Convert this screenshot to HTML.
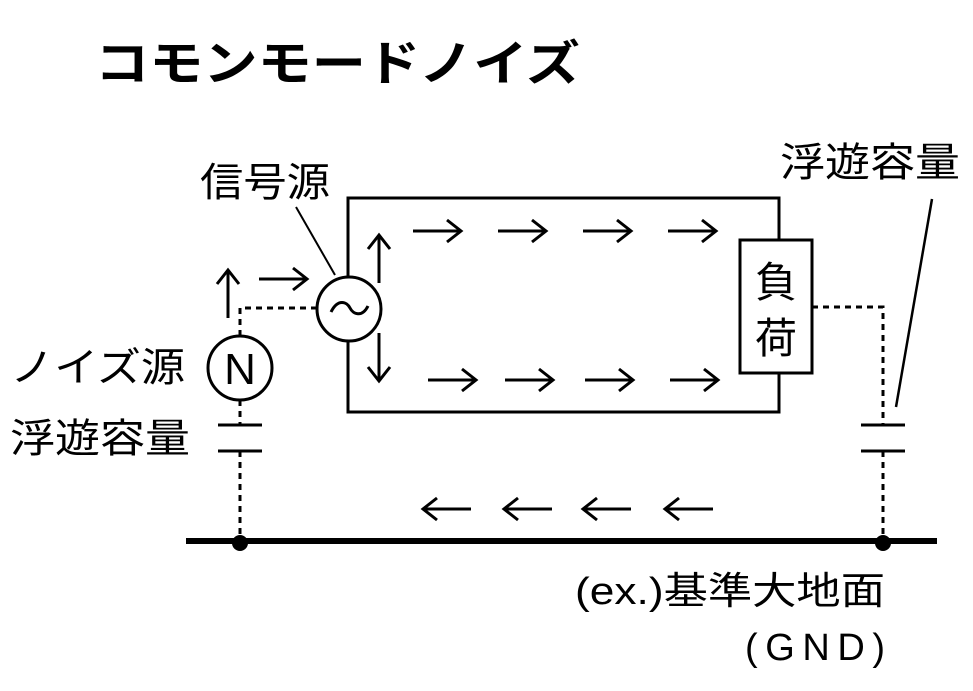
<!DOCTYPE html>
<html><head><meta charset="utf-8"><style>
html,body{margin:0;padding:0;background:#fff;}
svg{display:block;}
text{font-family:"Liberation Sans","Noto Sans CJK JP",sans-serif;fill:#000;}
</style></head><body>
<svg width="973" height="691" viewBox="0 0 973 691" xmlns="http://www.w3.org/2000/svg">
<defs>
<g id="ar"><line x1="0" y1="0" x2="48" y2="0" stroke="#000" stroke-width="3"/><polyline points="34,-11 48,0 34,11" fill="none" stroke="#000" stroke-width="3"/></g>
</defs>
<text x="95" y="80" font-size="48" font-weight="bold" textLength="485" lengthAdjust="spacingAndGlyphs">コモンモードノイズ</text>
<text x="200" y="196" font-size="40" textLength="130" lengthAdjust="spacingAndGlyphs">信号源</text>
<text x="10" y="381" font-size="40" textLength="175" lengthAdjust="spacingAndGlyphs">ノイズ源</text>
<text x="10" y="452" font-size="40" textLength="180" lengthAdjust="spacingAndGlyphs">浮遊容量</text>
<text x="780" y="176" font-size="40" textLength="180" lengthAdjust="spacingAndGlyphs">浮遊容量</text>
<text x="575" y="604" font-size="38" textLength="310" lengthAdjust="spacingAndGlyphs">(ex.)基準大地面</text>
<text x="745" y="660" font-size="38" textLength="140" lengthAdjust="spacing">(GND)</text>

<g stroke="#000" fill="none" stroke-width="3">
<rect x="348" y="198" width="431" height="214"/>
<line x1="296" y1="207" x2="335" y2="275" stroke-width="2"/>
<line x1="932" y1="199" x2="896" y2="407" stroke-width="2.5"/>
</g>
<rect x="740" y="240" width="72" height="133" fill="#fff" stroke="#000" stroke-width="3"/>
<text x="776" y="297" font-size="42" text-anchor="middle">負</text>
<text x="776" y="353" font-size="42" text-anchor="middle">荷</text>
<circle cx="349" cy="309" r="32" fill="#fff" stroke="#000" stroke-width="3"/>
<path d="M331,312 C338,298 347,302 350,308 C353,314 362,318 368,306" fill="none" stroke="#000" stroke-width="3"/>
<circle cx="240" cy="368" r="32" fill="#fff" stroke="#000" stroke-width="3"/>
<text x="240" y="384" font-size="44" text-anchor="middle">N</text>

<g stroke="#000" stroke-width="3" stroke-dasharray="6,5" fill="none">
<polyline points="240,336 240,308 316,308"/>
<line x1="240" y1="400" x2="240" y2="425"/>
<line x1="240" y1="451" x2="240" y2="540"/>
<polyline points="812,307 883,307 883,425"/>
<line x1="883" y1="451" x2="883" y2="540"/>
</g>
<g stroke="#000" stroke-width="3">
<line x1="218" y1="425" x2="262" y2="425"/><line x1="218" y1="451" x2="262" y2="451"/>
<line x1="861" y1="425" x2="905" y2="425"/><line x1="861" y1="451" x2="905" y2="451"/>
<line x1="186" y1="541" x2="937" y2="541" stroke-width="6"/>
</g>
<circle cx="240" cy="543" r="8"/><circle cx="883" cy="543" r="8"/>

<use href="#ar" transform="translate(228,318) rotate(-90)"/>
<use href="#ar" transform="translate(259,279)"/>
<use href="#ar" transform="translate(379,283) rotate(-90)"/>
<use href="#ar" transform="translate(379,333) rotate(90)"/>
<use href="#ar" transform="translate(413,231)"/>
<use href="#ar" transform="translate(498,231)"/>
<use href="#ar" transform="translate(583,231)"/>
<use href="#ar" transform="translate(668,231)"/>
<use href="#ar" transform="translate(428,380)"/>
<use href="#ar" transform="translate(505,380)"/>
<use href="#ar" transform="translate(585,380)"/>
<use href="#ar" transform="translate(670,380)"/>
<use href="#ar" transform="translate(471,509) rotate(180)"/>
<use href="#ar" transform="translate(552,509) rotate(180)"/>
<use href="#ar" transform="translate(631,509) rotate(180)"/>
<use href="#ar" transform="translate(713,509) rotate(180)"/>
</svg>
</body></html>
